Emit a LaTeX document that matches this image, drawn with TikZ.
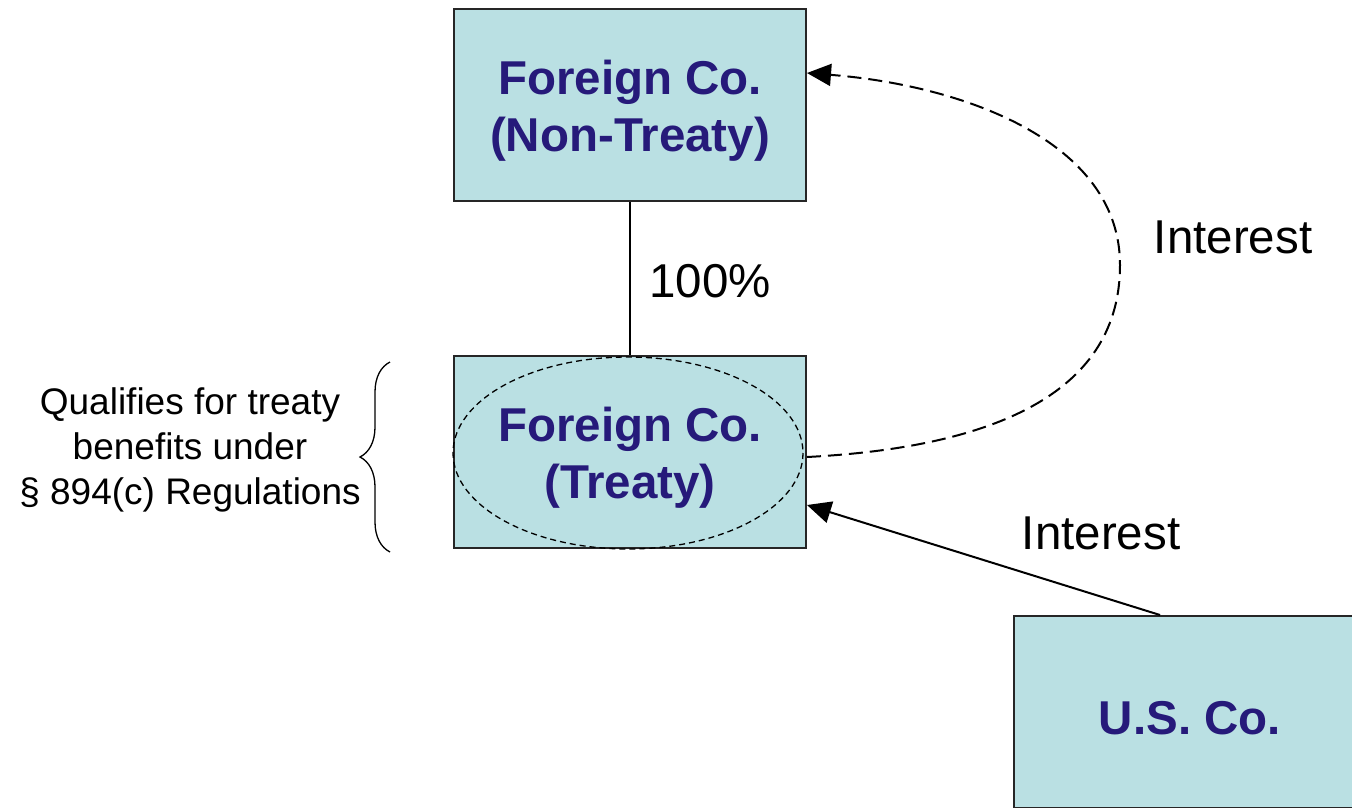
\documentclass[tikz,border=0pt]{standalone}
\usepackage{fontspec}
\setmainfont{Liberation Sans}
\usetikzlibrary{arrows.meta,calc,decorations.pathreplacing}
\definecolor{boxfill}{RGB}{186,224,227}
\definecolor{boxtext}{RGB}{38,26,122}
\tikzset{
  entity/.style={draw=black!85, line width=2pt, fill=boxfill, minimum width=352pt, minimum height=192pt,
    inner sep=0pt},
  etext/.style={inner sep=0pt, align=center, text=boxtext, font=\fontsize{47.5}{57}\selectfont\bfseries},
  lbl/.style={font=\fontsize{47.5}{55}\selectfont, inner sep=0pt},
  small/.style={font=\fontsize{37}{45}\selectfont, inner sep=0pt, align=center},
  flow/.style={line width=2pt, -{Triangle[length=24pt,width=22pt]}},
}
\begin{document}
\begin{tikzpicture}[x=1pt,y=-1pt]
\useasboundingbox (0,0) rectangle (1352,807);
\clip (0,0) rectangle (1352,807);
\node[entity] (top) at (630,105) {};
\node[entity] (mid) at (630,452) {};
\node[entity] (us) at (1190,712) {};
\node[etext] (toptext) at ($(top.center)+(0,6)$) {Foreign Co.\\(Non-Treaty)};
\draw[line width=1.3pt, dash pattern=on 6pt off 4pt] (628,453) ellipse [x radius=175, y radius=96];
\node[etext] (midtext) at ($(mid.center)+(0,6)$) {Foreign Co.\\(Treaty)};
\node[etext] (ustext) at ($(us.center)+(0,6)$) {U.S. Co.};
\draw[line width=2pt] (top.south) -- (mid.north);
\node[lbl] (pct) at (710,281) {100\%};
\coordinate (c1) at ($(mid.east)+(0,5)$);
\coordinate (c2) at ($(top.east)+(0,-32)$);
\draw[flow, dash pattern=on 14pt off 7pt] (c1) .. controls (1000,447) and (1120,390) .. (1120,265)
   .. controls (1120,140) and (960,85) .. (c2);
\node[lbl] (int1) at (1233,237) {Interest};
\coordinate (u1) at ($(us.north)+(-30,0)$);
\coordinate (m1) at ($(mid.east)+(0,53)$);
\draw[flow] (u1) -- (m1);
\node[lbl] (int2) at (1101,533) {Interest};
\coordinate (b1) at (390,552);
\coordinate (b2) at (390,362);
\draw[line width=1.3pt, decorate, decoration={brace, amplitude=30pt}] (b1) -- (b2);
\node[small] (qual) at (190,450) {Qualifies for treaty\\benefits under\\\S\ 894(c) Regulations};
\end{tikzpicture}
\end{document}
